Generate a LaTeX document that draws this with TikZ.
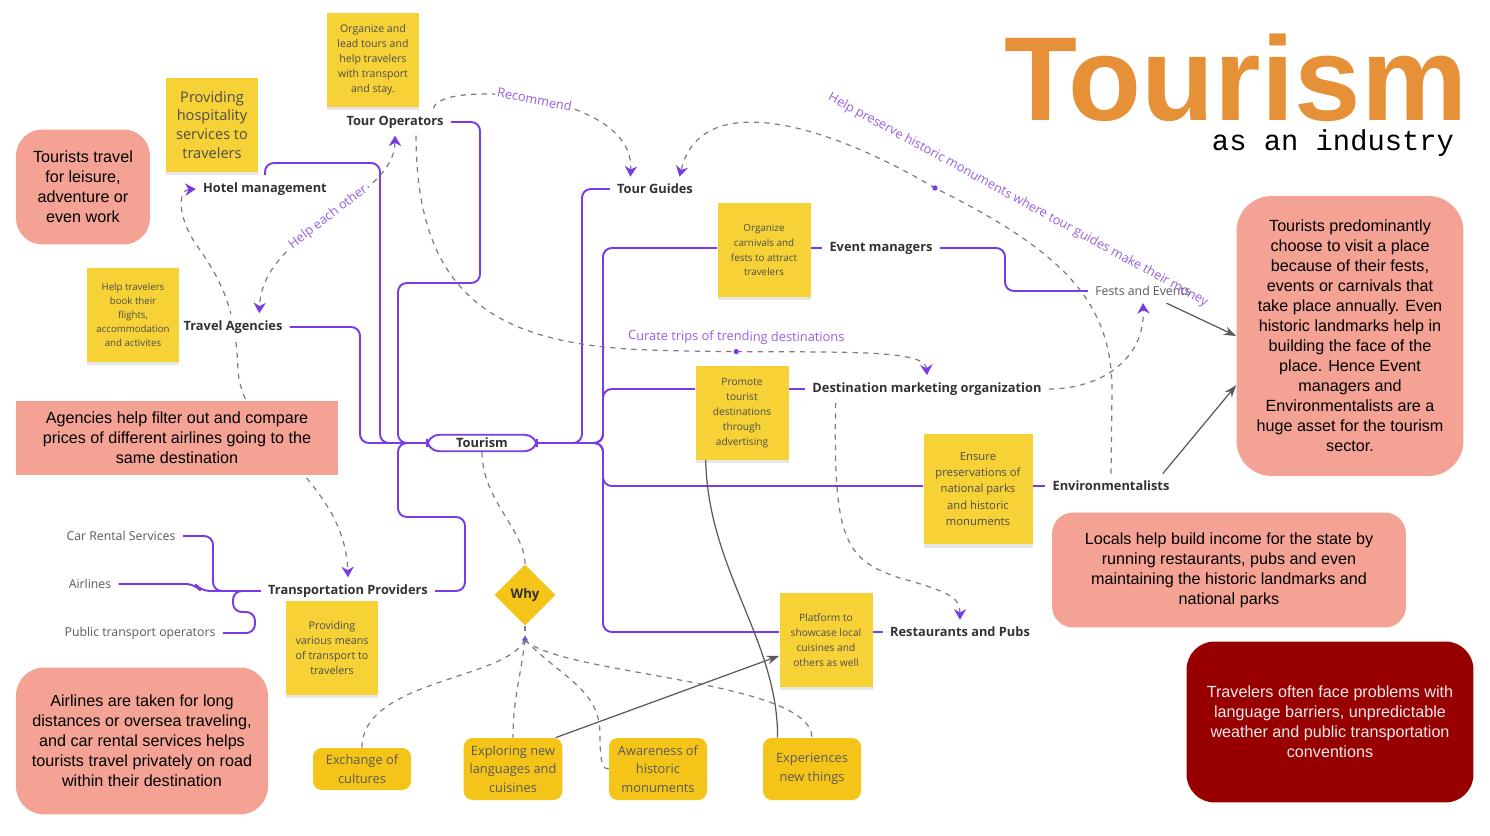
\documentclass[tikz,border=0pt]{standalone}
\usepackage{fontspec}
\setmainfont{Open Sans}
\newfontfamily\memofont{Liberation Sans}
\newfontfamily\typefont{Liberation Mono}
\usetikzlibrary{arrows.meta,shapes.geometric,shadows,backgrounds}

\definecolor{mapviolet}{RGB}{122,58,230}
\definecolor{notelabel}{RGB}{150,95,225}
\definecolor{dashgray}{RGB}{128,122,145}
\definecolor{stickyyellow}{RGB}{246,210,55}
\definecolor{amber}{RGB}{245,196,25}
\definecolor{salmon}{RGB}{244,162,148}
\definecolor{darkred}{RGB}{152,0,0}
\definecolor{titleorange}{RGB}{230,145,56}
\definecolor{labelgray}{RGB}{50,50,50}

\begin{document}
\begin{tikzpicture}[x=0.02cm, y=-0.02cm,
  >={Stealth[length=6pt,width=7pt,color=mapviolet]},
  topic/.style={font=\bfseries\fontsize{7.3}{9}\selectfont, text=labelgray, inner sep=4pt},
  leaf/.style={font=\fontsize{7}{9}\selectfont, text=black!65, inner sep=4pt},
  sticky/.style={fill=stickyyellow, text=black!70, align=center, inner sep=2pt,
    minimum width=1.86cm, minimum height=1.87cm,
    drop shadow={shadow xshift=0pt, shadow yshift=-2pt, opacity=0.2}},
  reason/.style={fill=amber, text=black!65, align=center, rounded corners=5pt,
    minimum width=1.96cm, font=\fontsize{7.3}{10.5}\selectfont},
  memo/.style={fill=salmon, text=black, align=center, font=\memofont\fontsize{9.2}{11.4}\selectfont},
  branch/.style={draw=mapviolet, line width=1.1pt, rounded corners=5pt},
  relation/.style={draw=dashgray, line width=0.7pt, dash pattern=on 3pt off 3pt},
  pointer/.style={draw=black!65, line width=0.7pt, -{Stealth[length=7pt,width=5pt]}},
  remark/.style={text=notelabel, font=\fontsize{7.3}{9}\selectfont, inner sep=1pt},
  midmark/.style={circle, fill=mapviolet, inner sep=0pt, minimum size=3pt}]

\useasboundingbox (0,0) rectangle (1490,835);

\node[anchor=base, text=titleorange, font=\memofont\bfseries\fontsize{68}{68}\selectfont, inner sep=0pt] (title) at (1236,120) {Tourism};
\node[anchor=base, font=\typefont\fontsize{16.4}{18}\selectfont, inner sep=0pt] (subtitle) at (1333,150) {as an industry};

\node[topic] (tourop) at (395,122) {Tour Operators};
\node[topic] (hotel) at (265,189) {Hotel management};
\node[topic, fill=white] (travel) at (233,327) {Travel Agencies};
\node[topic, draw=mapviolet, line width=1.1pt, rounded corners=7pt, minimum width=2.2cm, minimum height=0.33cm, inner sep=1pt, fill=white] (tourism) at (482,443) {Tourism};
\node[topic] (guides) at (655,189) {Tour Guides};
\node[topic] (events) at (881,248) {Event managers};
\node[leaf, fill=white] (fests) at (1143,291) {Fests and Events};
\node[topic] (dmo) at (927,389) {Destination marketing organization};
\node[topic] (envir) at (1111,486) {Environmentalists};
\node[topic] (resto) at (960,632) {Restaurants and Pubs};
\node[topic] (transport) at (348,591) {Transportation Providers};
\node[leaf] (carrental) at (121,536) {Car Rental Services};
\node[leaf] (airlines) at (90,584) {Airlines};
\node[leaf] (publictr) at (140,633) {Public transport operators};

\node[sticky, font=\fontsize{6}{8.5}\selectfont] (opnote) at (373,60) {Organize and\\lead tours and\\help travelers\\with transport\\and stay.};
\node[sticky, font=\fontsize{8.3}{10.8}\selectfont] (hotelnote) at (212,125) {Providing\\hospitality\\services to\\travelers};
\node[sticky, font=\fontsize{5.5}{8}\selectfont] (agencynote) at (133,315) {Help travelers\\book their\\flights,\\accommodation\\and activites};
\node[sticky, font=\fontsize{5.6}{8.5}\selectfont] (eventnote) at (764,250) {Organize\\carnivals and\\fests to attract\\travelers};
\node[sticky, font=\fontsize{5.8}{8.5}\selectfont] (dmonote) at (742,413) {Promote\\tourist\\destinations\\through\\advertising};
\node[sticky, minimum width=2.18cm, minimum height=2.2cm, font=\fontsize{6.4}{9.3}\selectfont] (envnote) at (978,489) {Ensure\\preservations of\\national parks\\and historic\\monuments};
\node[sticky, font=\fontsize{5.8}{8.5}\selectfont] (restonote) at (826,640) {Platform to\\showcase local\\cuisines and\\others as well};
\node[sticky, font=\fontsize{6.1}{8.5}\selectfont] (transnote) at (332,648) {Providing\\various means\\of transport to\\travelers};

\node[diamond, fill=amber, minimum width=1.22cm, minimum height=1.22cm, inner sep=0pt, font=\bfseries\fontsize{7.5}{9}\selectfont, text=labelgray] (why) at (525,595) {Why};
\coordinate (whyfork) at (525,640);
\node[reason, minimum height=0.84cm] (exchange) at (362,769) {Exchange of\\cultures};
\node[reason, minimum height=1.24cm] (explore) at (513,769) {Exploring new\\languages and\\cuisines};
\node[reason, minimum height=1.24cm] (aware) at (658,769) {Awareness of\\historic\\monuments};
\node[reason, minimum height=1.24cm] (experience) at (812,769) {Experiences\\new things};

\node[memo, rounded corners=15pt, minimum width=2.68cm, minimum height=2.3cm] (leisure) at (83,187) {Tourists travel\\for leisure,\\adventure or\\even work};
\node[memo, minimum width=6.46cm, minimum height=1.5cm] (agencies) at (177,438) {Agencies help filter out and compare\\prices of different airlines going to the\\same destination};
\node[memo, rounded corners=20pt, minimum width=4.54cm, minimum height=5.6cm] (festivals) at (1350,336) {Tourists predominantly\\choose to visit a place\\because of their fests,\\events or carnivals that\\take place annually. Even\\historic landmarks help in\\building the face of the\\place. Hence Event\\managers and\\Environmentalists are a\\huge asset for the tourism\\sector.};
\node[memo, rounded corners=12pt, minimum width=7.08cm, minimum height=2.3cm] (locals) at (1229,570) {Locals help build income for the state by\\running restaurants, pubs and even\\maintaining the historic landmarks and\\national parks};
\node[memo, rounded corners=16pt, minimum width=5.04cm, minimum height=2.94cm] (airmemo) at (142,741) {Airlines are taken for long\\distances or oversea traveling,\\and car rental services helps\\tourists travel privately on road\\within their destination};
\node[memo, fill=darkred, text=white!92!black, rounded corners=16pt, minimum width=5.74cm, minimum height=3.22cm] (problems) at (1330,722) {Travelers often face problems with\\language barriers, unpredictable\\weather and public transportation\\conventions};

\node[remark, rotate=-28.7] (preserve) at (1018,200) {Help preserve historic monuments where tour guides make their money};

\begin{scope}[on background layer]
\draw[branch] (tourop.east) -- (480,122) -- (480,283) -- (398,283) -- (398,443) -- (tourism.west);
\draw[branch] (hotel.north) -- (265,163) -- (380,163) -- (380,443) -- (tourism.west);
\draw[branch] (travel.east) -- (360,327) -- (360,443) -- (tourism.west);
\draw[branch] (tourism.west) -- (398,443) -- (398,517) -- (465,517) -- (465,591) -- (transport.east);
\draw[branch] (carrental.east) -- (213,536) -- (213,591) -- (transport.west);
\draw[branch] (airlines.east) -- (195,584) -- (201,591) -- (transport.west);
\draw[branch] (publictr.east) -- (255,633) -- (255,612) -- (233,612) -- (233,591) -- (transport.west);

\draw[branch] (tourism.east) -- (582,443) -- (582,189) -- (guides.west);
\draw[branch] (tourism.east) -- (603,443) -- (603,248) -- (eventnote.west |- events.west);
\draw[branch] (eventnote.east |- events.west) -- (events.west);
\draw[branch] (events.east) -- (1005,248) -- (1005,291) -- (fests.west);
\draw[branch] (tourism.east) -- (603,443) -- (603,389) -- (dmonote.west |- dmo.west);
\draw[branch] (dmonote.east |- dmo.west) -- (dmo.west);
\draw[branch] (tourism.east) -- (603,443) -- (603,486) -- (envnote.west |- envir.west);
\draw[branch] (envnote.east |- envir.west) -- (envir.west);
\draw[branch] (tourism.east) -- (603,443) -- (603,632) -- (restonote.west |- resto.west);
\draw[branch] (restonote.east |- resto.west) -- (resto.west);

\draw[relation, ->] ([xshift=22pt]tourop.north) .. controls (436,80) and (635,90) .. ([xshift=-14pt]guides.north) node[remark, pos=0.5, sloped, fill=white] (recommend) {Recommend};
\draw[relation, ->] ([xshift=12pt]tourop.south) .. controls (416,300) and (500,345) .. (650,350) .. controls (800,355) and (925,345) .. (dmo.north) node[pos=0.2, midmark] {} node[remark, pos=0.2, above=3pt, sloped] (curate) {Curate trips of trending destinations};
\draw[relation, <->] (tourop.south) .. controls (395,200) and (262,230) .. ([xshift=15pt]travel.north) node[remark, pos=0.5, sloped, fill=white] (helpeach) {Help each other};
\draw[relation, <->] (hotel.west) .. controls (178,190) and (176,218) .. (200,250) .. controls (228,290) and (236,320) .. (238,370) .. controls (242,440) and (345,480) .. (transport.north);
\draw[relation, ->] (envir.north) -- (1112,390) .. controls (1112,300) and (1060,250) .. (935,188) node[midmark] {} .. controls (820,120) and (700,90) .. ([xshift=14pt]guides.north);
\draw[relation, ->] (dmo.east) .. controls (1100,389) and (1145,360) .. (fests.south);
\draw[relation, ->] ([xshift=-52pt]dmo.south) .. controls (833,540) and (845,560) .. (900,578) .. controls (950,592) and (960,598) .. (resto.north);

\draw[relation] (tourism.south) .. controls (482,500) and (525,530) .. (why.north);
\draw[relation] (why.south) -- (whyfork) node[midmark] {};
\draw[relation] (whyfork) .. controls (505,680) and (362,680) .. (exchange.north);
\draw[relation] (whyfork) .. controls (520,680) and (513,700) .. (explore.north);
\draw[relation] (whyfork) .. controls (565,680) and (600,690) .. (600,735) .. controls (600,765) and (603,769) .. (aware.west);
\draw[relation] (whyfork) .. controls (560,675) and (812,680) .. (experience.north);

\draw[pointer] ([xshift=-4pt]explore.north east) -- ([yshift=-9pt]restonote.west);
\draw[pointer, -] ([xshift=6pt]dmonote.south west) .. controls (708,570) and (778,640) .. ([xshift=8.5pt]experience.north west);
\draw[pointer] ([xshift=-18pt]fests.south east) -- (festivals.west);
\draw[pointer] ([xshift=-8pt]envir.north east) -- ([yshift=-28pt]festivals.west);
\end{scope}
\end{tikzpicture}
\end{document}
